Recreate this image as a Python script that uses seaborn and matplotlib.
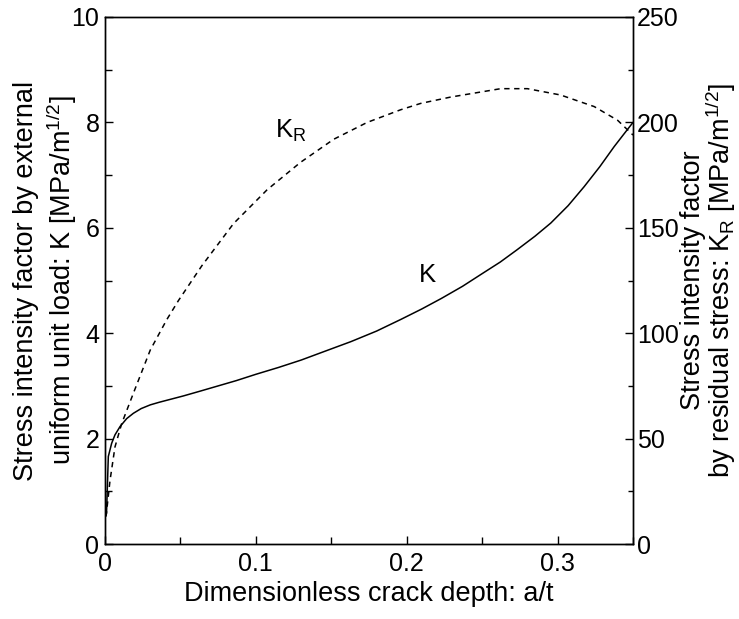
import matplotlib
matplotlib.use("Agg")
import matplotlib.pyplot as plt
import seaborn as sns
from matplotlib.ticker import MultipleLocator, FuncFormatter

# ---- data ----
a_t_K = [0.001, 0.0012, 0.0018, 0.0022, 0.0044, 0.0066, 0.010, 0.0144, 0.0188,
         0.024, 0.030, 0.036, 0.044, 0.052, 0.063, 0.075, 0.087, 0.100, 0.115,
         0.130, 0.146, 0.163, 0.180, 0.196, 0.210, 0.223, 0.237, 0.250, 0.262,
         0.273, 0.285, 0.2955, 0.307, 0.3176, 0.328, 0.3375, 0.344, 0.350]
K_vals = [0.58, 0.75, 1.30, 1.66, 1.91, 2.07, 2.23, 2.38, 2.48,
          2.57, 2.64, 2.69, 2.75, 2.81, 2.90, 3.00, 3.10, 3.22, 3.35,
          3.49, 3.66, 3.84, 4.04, 4.26, 4.46, 4.66, 4.89, 5.13, 5.35,
          5.58, 5.84, 6.09, 6.42, 6.78, 7.16, 7.54, 7.78, 8.00]

a_t_KR = [0.0007, 0.0033, 0.0066, 0.011, 0.0188, 0.030, 0.041, 0.0487, 0.0642,
          0.0852, 0.1074, 0.1295, 0.1516, 0.1738, 0.196, 0.2092, 0.229, 0.2623,
          0.280, 0.302, 0.3243, 0.3398, 0.350]
KR_vals = [13, 30, 46, 57, 71.5, 92, 106.5, 115.5, 132,
           152, 168, 181, 192, 200, 206, 209, 212, 216,
           216, 213, 207.5, 201, 194]

x_ticks = [0, 0.1, 0.2, 0.3]
y_ticks = [0, 2, 4, 6, 8, 10]
y2_ticks = [0, 50, 100, 150, 200, 250]

sns.set_style("ticks")
plt.rcParams["font.family"] = ["Liberation Sans", "DejaVu Sans"]
plt.rcParams["mathtext.fontset"] = "custom"
plt.rcParams["mathtext.rm"] = "Liberation Sans"
plt.rcParams["mathtext.it"] = "Liberation Sans:italic"
plt.rcParams["mathtext.default"] = "regular"
for k in ["axes.edgecolor", "xtick.color", "ytick.color", "text.color", "axes.labelcolor"]:
    plt.rcParams[k] = "black"

fig = plt.figure(figsize=(7.39, 6.19), dpi=100)
ax = fig.add_axes([105 / 739, 1 - 544 / 619, 528 / 739, 527 / 619])
ax2 = ax.twinx()

sns.lineplot(x=a_t_K, y=K_vals, ax=ax, color="black", linewidth=1.1, sort=False)
sns.lineplot(x=a_t_KR, y=KR_vals, ax=ax2, color="black", linewidth=1.1, sort=False)
ax2.lines[0].set_dashes([3.5, 3])

ax.set_xlim(0, 0.35)
ax.set_ylim(0, 10)
ax2.set_ylim(0, 250)

ax.set_xticks(x_ticks)
ax.set_yticks(y_ticks)
ax2.set_yticks(y2_ticks)
ax.xaxis.set_minor_locator(MultipleLocator(0.05))
ax.yaxis.set_minor_locator(MultipleLocator(1))
ax2.yaxis.set_minor_locator(MultipleLocator(25))
fmt = FuncFormatter(lambda v, p: f"{v:g}")
ax.xaxis.set_major_formatter(fmt)
ax.yaxis.set_major_formatter(fmt)
ax2.yaxis.set_major_formatter(fmt)

ax.tick_params(axis="both", which="both", direction="in", top=False, right=False,
               labelsize=18, width=1.0, colors="black")
ax.tick_params(axis="both", which="major", length=5.5)
ax.tick_params(axis="both", which="minor", length=5)
ax.tick_params(axis="x", which="major", pad=6)
ax.tick_params(axis="y", which="major", pad=4)
ax2.tick_params(axis="y", which="both", direction="in", labelsize=18, width=1.0, colors="black")
ax2.tick_params(axis="y", which="major", length=5.5, pad=3)
ax2.tick_params(axis="y", which="minor", length=3.5)

for a in (ax, ax2):
    for s in a.spines.values():
        s.set_linewidth(1.0)
        s.set_color("black")
        s.set_visible(True)

ax.set_xlabel("Dimensionless crack depth: a/t", fontsize=19.5)
ax.xaxis.set_label_coords(0.5, -0.071)
ax.set_ylabel("Stress intensity factor by external\nuniform unit load: K [MPa/m$^{1/2}$]",
              fontsize=19.5, linespacing=1.2)
ax.yaxis.set_label_coords(-0.049, 0.5)
ax2.set_ylabel("Stress intensity factor\nby residual stress: K$_{R}$ [MPa/m$^{1/2}$]",
               fontsize=19.5, linespacing=0.92)
ax2.yaxis.set_label_coords(1.089, 0.5)

ax.text(0.113, 7.7, "K$_{R}$", fontsize=18.5)
ax.text(0.208, 4.97, "K", fontsize=18.5)

fig.savefig("out.png", dpi=100)
